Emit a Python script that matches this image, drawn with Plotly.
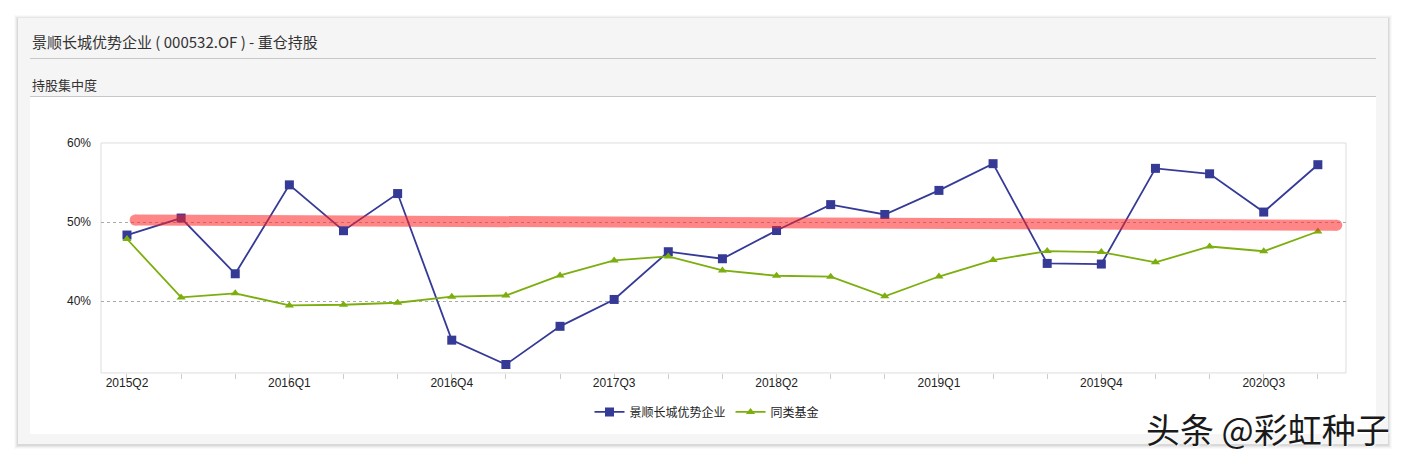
import plotly.graph_objects as go

quarters = ["2015Q2","2015Q3","2015Q4","2016Q1","2016Q2","2016Q3","2016Q4",
            "2017Q1","2017Q2","2017Q3","2017Q4","2018Q1","2018Q2","2018Q3",
            "2018Q4","2019Q1","2019Q2","2019Q3","2019Q4","2020Q1","2020Q2",
            "2020Q3","2020Q4"]
fund_values = [48.35, 50.5, 43.45, 54.7, 48.9, 53.6, 35.05, 31.97, 36.8, 40.2,
               46.24, 45.35, 48.92, 52.2, 50.95, 54.0, 57.38, 44.76, 44.68,
               56.79, 56.1, 51.26, 57.25]
peer_values = [47.85, 40.46, 40.97, 39.45, 39.53, 39.78, 40.55, 40.7, 43.24,
               45.14, 45.65, 43.87, 43.2, 43.08, 40.6, 43.1, 45.18, 46.32,
               46.2, 44.9, 46.9, 46.3, 48.8]
shown_labels = ["2015Q2","2016Q1","2016Q4","2017Q3","2018Q2","2019Q1","2019Q4","2020Q3"]
y_ticks = [40, 50, 60]
highlight_x = [0.15, 22.35]
highlight_y = [50.25, 49.6]

W, H = 1406, 462
def px_x(v): return v / W
def px_y(v):
    # compensate the vertical offset observed in the rendered output
    v = (v - 7) / 0.985
    return 1 - v / H

idx = list(range(len(quarters)))
fig = go.Figure()
fig.add_trace(go.Scatter(
    x=idx, y=fund_values, mode="lines+markers", name="景顺长城优势企业",
    line=dict(color="#353a96", width=1.8),
    marker=dict(symbol="square", size=9, color="#353a96"),
))
fig.add_trace(go.Scatter(
    x=idx, y=peer_values, mode="lines+markers", name="同类基金",
    line=dict(color="#7cae0e", width=1.8),
    marker=dict(symbol="triangle-up", size=8, color="#7cae0e"),
))
fig.add_trace(go.Scatter(
    x=highlight_x, y=highlight_y, mode="lines+markers", showlegend=False,
    hoverinfo="skip", opacity=0.55, cliponaxis=False,
    line=dict(color="#ff2424", width=11),
    marker=dict(symbol="circle", size=11, color="#ff2424", line=dict(width=0)),
))

shapes = []
for i, op in enumerate([0.02, 0.03, 0.045, 0.06]):
    d = 4 - i
    shapes.append(dict(type="rect", xref="paper", yref="paper", layer="below",
                       x0=px_x(18 - d), x1=px_x(1388 + d), y0=px_y(444 + d + 1), y1=px_y(18 - d + 1),
                       line=dict(width=0), fillcolor=f"rgba(0,0,0,{op})"))
shapes.append(dict(type="rect", xref="paper", yref="paper", layer="below",
                   x0=px_x(18), x1=px_x(1388), y0=px_y(444), y1=px_y(18),
                   line=dict(width=0), fillcolor="#f5f5f5"))
for yy in [58.5, 96.5]:
    shapes.append(dict(type="line", xref="paper", yref="paper", layer="below",
                       x0=px_x(30), x1=px_x(1376), y0=px_y(yy), y1=px_y(yy),
                       line=dict(color="#c8c8c8", width=1)))
shapes.append(dict(type="rect", xref="paper", yref="paper", layer="below",
                   x0=px_x(30), x1=px_x(1376), y0=px_y(434), y1=px_y(97),
                   line=dict(width=0), fillcolor="#ffffff"))
shapes.append(dict(type="rect", xref="paper", yref="paper", layer="below",
                   x0=px_x(101), x1=px_x(1346), y0=px_y(373), y1=px_y(143),
                   line=dict(color="#dddddd", width=1), fillcolor="rgba(0,0,0,0)"))

annotations = [
    dict(text="景顺长城优势企业 ( 000532.OF ) - 重仓持股", xref="paper", yref="paper",
         x=px_x(30), y=px_y(42), xanchor="left", yanchor="middle", showarrow=False,
         font=dict(size=15, color="#333333", family="Noto Sans CJK SC")),
    dict(text="持股集中度", xref="paper", yref="paper",
         x=px_x(30), y=px_y(85), xanchor="left", yanchor="middle", showarrow=False,
         font=dict(size=13, color="#333333", family="Noto Sans CJK SC")),
    dict(text="头条 @彩虹种子", xref="paper", yref="paper",
         x=px_x(1392), y=px_y(429), xanchor="right", yanchor="middle", showarrow=False,
         font=dict(size=34, color="#1a1a1a", family="Noto Sans CJK SC",
                   shadow="1px 1px 2px #ffffff")),
]

fig.update_layout(
    width=W, height=H,
    margin=dict(l=0, r=0, t=0, b=0),
    paper_bgcolor="#ffffff",
    plot_bgcolor="#ffffff",
    font=dict(family="Liberation Sans, Arial, Noto Sans CJK SC", color="#222222", size=12),
    showlegend=True,
    legend=dict(orientation="h", x=px_x(707), y=px_y(412), xanchor="center", yanchor="middle",
                font=dict(size=12, family="Noto Sans CJK SC", color="#222"),
                bgcolor="rgba(0,0,0,0)", itemwidth=30, tracegroupgap=0),
    xaxis=dict(domain=[px_x(101), px_x(1346)], range=[-0.48, 22.52],
               tickmode="array",
               tickvals=[quarters.index(q) for q in shown_labels], ticktext=shown_labels,
               ticks="", ticklabelstandoff=1,
               minor=dict(tick0=0, dtick=1, ticks="outside", ticklen=5, tickcolor="#cccccc",
                          showgrid=False),
               showgrid=False, zeroline=False, showline=False,
               tickfont=dict(size=12, color="#222222")),
    yaxis=dict(domain=[px_y(373), px_y(143)], range=[30.9, 60],
               tickmode="array", tickvals=y_ticks, ticktext=[f"{v}%" for v in y_ticks],
               showgrid=True, gridcolor="#aaaaaa", griddash="dot", gridwidth=1,
               zeroline=False, showline=False, ticks="", ticklabelstandoff=9,
               tickfont=dict(size=12, color="#222222")),
    shapes=shapes,
    annotations=annotations,
)

fig.write_html(
    "out.html",
    config={"displayModeBar": False},
    post_script=("document.documentElement.style.margin='0';"
                 "document.body.style.margin='0';document.body.style.padding='0';"
                 "document.body.style.overflow='hidden';"
                 "var d=document.getElementById('{plot_id}');"
                 "d.style.position='absolute';d.style.top='0px';d.style.left='0px';"),
)
